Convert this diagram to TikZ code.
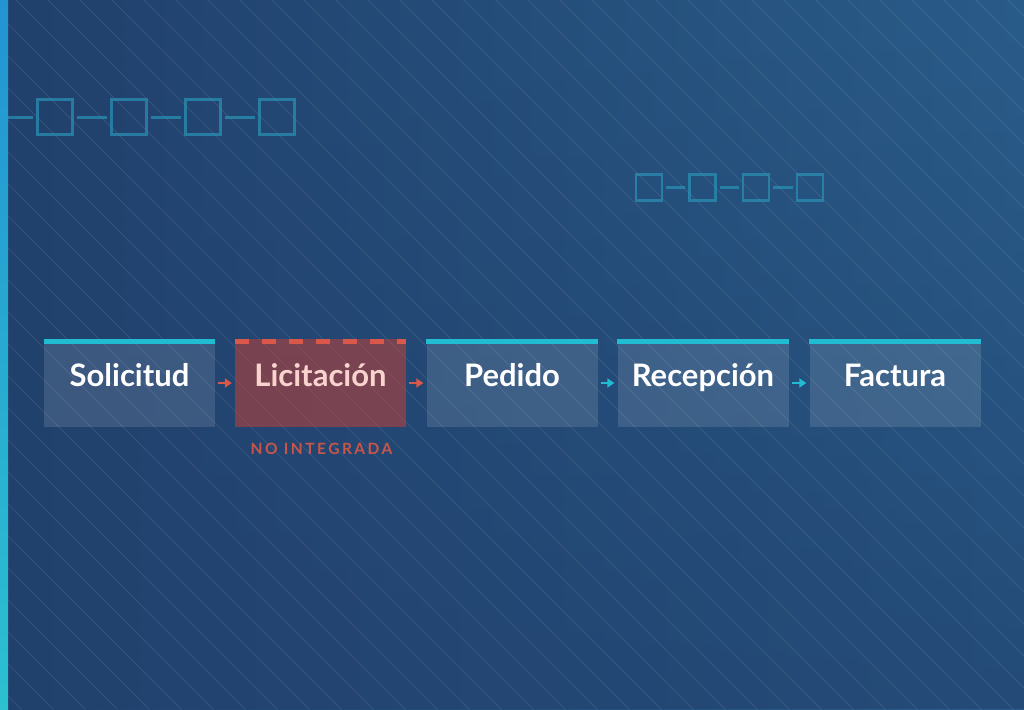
\documentclass[tikz,border=0pt]{standalone}
\usepackage{fontspec}
\setmainfont{Lato}
\usetikzlibrary{arrows.meta,fadings}
\definecolor{bgTL}{HTML}{21406C}
\definecolor{bgTR}{HTML}{2A5C89}
\definecolor{bgBL}{HTML}{22416D}
\definecolor{bgBR}{HTML}{244B78}
\definecolor{cyanbar}{HTML}{22BCD2}
\definecolor{redc}{HTML}{D9584A}
\definecolor{redfill}{HTML}{C14136}
\definecolor{redtxt}{HTML}{C9554A}
\definecolor{pinktxt}{HTML}{F9D4CF}
\definecolor{chainc}{HTML}{2A8FB2}
\definecolor{barTop}{HTML}{2294D2}
\definecolor{barBot}{HTML}{2CC0D0}
\tikzset{
  stagebox/.style={minimum width=171pt, minimum height=88pt, inner sep=0pt, draw=none, fill=white, fill opacity=0.12},
  redbox/.style={minimum width=171pt, minimum height=88pt, inner sep=0pt, draw=none, fill=redfill, fill opacity=0.55},
  stagelabel/.style={anchor=base, text=white, font=\bfseries\fontsize{31}{36}\selectfont, inner sep=0pt},
  bigsq/.style={draw=chainc, line width=3pt, minimum size=35pt, inner sep=0pt, draw opacity=0.75},
  smallsq/.style={draw=chainc, line width=2.5pt, minimum size=26pt, inner sep=0pt, draw opacity=0.75},
  bigline/.style={draw=chainc, line width=3pt, draw opacity=0.75},
  smallline/.style={draw=chainc, line width=2.5pt, draw opacity=0.75},
  redarr/.style={draw=redc, line width=2pt, -{Triangle[length=7pt,width=9pt]}, shorten <=3pt, shorten >=3pt},
  cyanarr/.style={draw=cyanbar, line width=2pt, -{Triangle[length=7pt,width=9pt]}, shorten <=3pt, shorten >=3pt},
}
\begin{document}
\begin{tikzpicture}[x=1pt,y=-1pt]
\useasboundingbox (0,0) rectangle (1024,709);
% background (y-up scope)
\begin{scope}[y=1pt]
\shade[left color=bgTL, right color=bgTR] (0,-709) rectangle (1024,0);
\shade[left color=bgBL, right color=bgBR, path fading=north] (0,-709) rectangle (1024,0);
\end{scope}
\begin{scope}
\clip (0,0) rectangle (1024,709);
\foreach \i in {-23,...,33} {
  \draw[white, opacity=0.09, line width=1pt] ({16+32*\i},0) -- ({16+32*\i+709},709);
}
\end{scope}
% left bar
\begin{scope}[y=1pt]
\shade[top color=barTop, bottom color=barBot] (0,-709) rectangle (8,0);
\end{scope}

% top-left chain
\coordinate (c0) at (8,117);
\node[bigsq] (s1) at (54.5,117) {};
\node[bigsq] (s2) at (128.5,117) {};
\node[bigsq] (s3) at (202.5,117) {};
\node[bigsq] (s4) at (276.5,117) {};
\draw[bigline] (c0) -- ([xshift=-3pt]s1.west);
\draw[bigline] ([xshift=3pt]s1.east) -- ([xshift=-3pt]s2.west);
\draw[bigline] ([xshift=3pt]s2.east) -- ([xshift=-3pt]s3.west);
\draw[bigline] ([xshift=3pt]s3.east) -- ([xshift=-3pt]s4.west);

% right chain
\node[smallsq] (t1) at (649,187.5) {};
\node[smallsq] (t2) at (702.5,187.5) {};
\node[smallsq] (t3) at (756,187.5) {};
\node[smallsq] (t4) at (810,187.5) {};
\draw[smallline] ([xshift=3pt]t1.east) -- ([xshift=-3pt]t2.west);
\draw[smallline] ([xshift=3pt]t2.east) -- ([xshift=-3pt]t3.west);
\draw[smallline] ([xshift=3pt]t3.east) -- ([xshift=-3pt]t4.west);

% stage boxes
\node[stagebox] (b1) at (129.5,383) {};
\node[redbox]   (b2) at (320.5,383) {};
\node[stagebox] (b3) at (512,383) {};
\node[stagebox] (b4) at (703,383) {};
\node[stagebox] (b5) at (895,383) {};

% top bars
\fill[cyanbar] (b1.north west) rectangle ([yshift=-5pt]b1.north east);
\draw[redc, line width=5pt, dash pattern=on 14pt off 13pt] ([yshift=-2.5pt]b2.north west) -- ([yshift=-2.5pt]b2.north east);
\fill[cyanbar] (b3.north west) rectangle ([yshift=-5pt]b3.north east);
\fill[cyanbar] (b4.north west) rectangle ([yshift=-5pt]b4.north east);
\fill[cyanbar] (b5.north west) rectangle ([yshift=-5pt]b5.north east);

% labels
\node[stagelabel] (l1) at (129.5,386) {Solicitud};
\node[stagelabel, text=pinktxt] (l2) at (320.5,386) {Licitación};
\node[stagelabel] (l3) at (512,386) {Pedido};
\node[stagelabel] (l4) at (703,386) {Recepción};
\node[stagelabel] (l5) at (895,386) {Factura};

\node[anchor=base, text=redtxt, inner sep=0pt, font=\bfseries\fontsize{15.5}{18}\selectfont\addfontfeatures{LetterSpace=16}] (ni) at (321.5,454) {NO INTEGRADA};

% arrows
\draw[redarr] (b1) -- (b2);
\draw[redarr] (b2) -- (b3);
\draw[cyanarr] (b3) -- (b4);
\draw[cyanarr] (b4) -- (b5);
\end{tikzpicture}
\end{document}
